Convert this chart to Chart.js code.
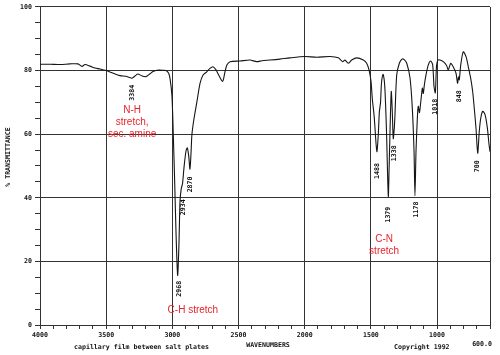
<!DOCTYPE html>
<html>
<head>
<meta charset="utf-8">
<script src="https://cdn.jsdelivr.net/npm/chart.js@4/dist/chart.umd.min.js"></script>
<style>
html,body{margin:0;padding:0;background:#fff;}
#wrap{width:500px;height:355px;position:relative;}
</style>
</head>
<body>
<div id="wrap"><canvas id="c" width="500" height="355"></canvas></div>
<script>
// Wavenumbers (cm-1) and % transmittance
const wavenumbers = [4000,3924,3849,3773,3713,3683,3660,3622,3584,3547,3500,3456,3396,3350,3328,3305,3282,3260,3229,3199,3169,3146,3116,3071,3048,3029,3018,3003,2993,2982,2972,2960,2950,2942,2933,2923,2912,2897,2887,2876,2867,2859,2852,2836,2814,2791,2768,2738,2716,2693,2670,2650,2620,2602,2587,2564,2489,2413,2363,2323,2262,2187,2111,1998,1909,1809,1746,1713,1696,1671,1645,1607,1557,1532,1514,1499,1489,1476,1469,1461,1454,1444,1436,1427,1420,1408,1399,1393,1386,1380,1373,1368,1363,1356,1346,1339,1331,1323,1318,1305,1285,1265,1250,1229,1204,1187,1174,1167,1159,1149,1142,1133,1124,1111,1104,1096,1084,1066,1048,1033,1023,1013,1004,993,978,953,928,915,897,878,857,845,838,832,821,802,781,764,746,731,719,706,693,681,670,655,638,620,608,600];
const transmittance = [82.0,82.0,81.9,82.1,82.1,81.3,81.9,81.4,80.8,80.5,80.0,79.3,78.4,78.2,77.9,77.6,78.3,78.9,78.3,78.1,79.0,79.7,80.1,80.1,80.0,79.2,77.6,72.0,60.0,44.3,28.6,15.6,25.6,39.0,42.8,44.5,49.5,54.7,55.7,53.0,49.0,54.0,60.0,65.0,70.3,76.0,78.6,79.7,80.7,81.2,80.2,78.6,76.6,79.7,81.8,82.8,83.0,83.3,82.8,83.1,83.3,83.6,84.0,84.4,84.2,84.4,84.0,82.8,83.3,82.3,83.3,84.0,83.3,82.3,80.2,76.6,71.0,66.0,62.0,57.0,54.5,59.9,67.0,70.0,76.0,78.8,77.0,73.4,66.0,57.8,46.0,40.4,48.0,60.0,73.4,68.0,58.6,62.0,66.0,78.6,82.3,83.6,83.5,82.3,77.6,68.2,54.7,40.6,54.7,65.0,68.8,66.8,69.8,74.5,72.8,75.5,78.6,81.8,83.0,81.8,75.0,73.0,81.5,83.3,83.3,82.8,81.6,80.2,82.3,81.2,79.2,76.0,78.0,77.1,81.8,85.9,84.4,81.2,77.6,73.4,68.2,62.0,54.0,60.9,65.0,67.2,66.2,62.0,57.0,54.5];

// Axis tick values
const xMajorTicks = [4000,3500,3000,2500,2000,1500,1000];
const yMajorTicks = [0,20,40,60,80,100];

// Peak labels (text, wavenumber, %T where the label sits)
const peakText = ['3384','2968','2934','2870','1488','1379','1338','1178','1018','848','700'];
const peakAtX  = [3300,2950,2917,2861,1452,1368,1323,1159,1013,832,693];
const peakAtY  = [73.0,11.4,37.0,44.2,48.4,34.7,54.0,36.3,68.6,71.9,49.9];

// Red band annotations (centre of each text block)
const noteLines = [['N-H','stretch,','sec. amine'],['C-H stretch'],['C-N','stretch']];
const noteAtX = [3304,2845,1400];
const noteAtY = [63.8,4.7,25.0];

const monoFont = 'bold 6.6px "DejaVu Sans Mono"';
const gridCol = '#333';

const overlay = {
  id:'overlay',
  afterDraw(chart){
    const {ctx, scales:{x,y}} = chart;
    ctx.save();
    ctx.fillStyle = '#111';
    ctx.font = monoFont;
    peakText.forEach((t,i)=>{
      ctx.save();
      ctx.translate(x.getPixelForValue(peakAtX[i]), y.getPixelForValue(peakAtY[i]));
      ctx.rotate(-Math.PI/2);
      ctx.textAlign='center'; ctx.textBaseline='middle';
      ctx.fillText(t,0,0);
      ctx.restore();
    });
    ctx.fillStyle = '#e8232b';
    ctx.font = '10px "Liberation Sans", Arial, sans-serif';
    ctx.textAlign='center'; ctx.textBaseline='middle';
    noteLines.forEach((lines,i)=>{
      const cx = x.getPixelForValue(noteAtX[i]);
      const cy = y.getPixelForValue(noteAtY[i]);
      lines.forEach((l,j)=>{
        ctx.fillText(l, cx, cy + (j-(lines.length-1)/2)*12.2);
      });
    });
    ctx.fillStyle = '#111';
    ctx.font = monoFont;
    ctx.textBaseline='middle';
    ctx.textAlign='left';
    ctx.fillText('capillary film between salt plates', 74, 347.5);
    ctx.fillText('Copyright 1992', 394, 347.5);
    ctx.textAlign='center';
    ctx.fillText('WAVENUMBERS', 268, 345);
    ctx.textAlign='right';
    ctx.fillText('600.0', x.getPixelForValue(600)+2, 344);
    ctx.save();
    ctx.translate(8, 157);
    ctx.rotate(-Math.PI/2);
    ctx.textAlign='center';
    ctx.fillText('% TRANSMITTANCE', 0, 0);
    ctx.restore();
    ctx.restore();
  }
};

const bgPlugin = {
  id:'bg',
  beforeDraw(chart){
    const ctx = chart.ctx;
    ctx.save(); ctx.fillStyle='#fff'; ctx.fillRect(0,0,chart.width,chart.height); ctx.restore();
  }
};

new Chart(document.getElementById('c'), {
  type:'line',
  data:{
    datasets:[{
      data: wavenumbers.map((w,i)=>({x:w,y:transmittance[i]})),
      borderColor:'#151515',
      borderWidth:1.1,
      pointRadius:0,
      tension:0.25,
      fill:false
    }]
  },
  options:{
    responsive:false,
    animation:false,
    devicePixelRatio:1,
    layout:{padding:{top:5,right:10,left:0,bottom:0}},
    plugins:{legend:{display:false},tooltip:{enabled:false}},
    scales:{
      x:{
        type:'linear',
        min:600, max:4000, reverse:true,
        afterFit(s){ s.height = 30; },
        border:{display:true,color:gridCol,width:1},
        grid:{
          color:(c)=> (c.tick && (xMajorTicks.includes(c.tick.value) || c.tick.value===600)) ? gridCol : 'rgba(0,0,0,0)',
          lineWidth:1,
          tickColor:gridCol,
          tickLength:4,
          drawTicks:true
        },
        ticks:{
          stepSize:100,
          autoSkip:false,
          maxRotation:0,
          padding:2,
          color:'#111',
          font:{family:'DejaVu Sans Mono',size:6.6,weight:'bold'},
          callback:(v)=> xMajorTicks.includes(v) ? String(v) : ''
        }
      },
      y:{
        min:0, max:100,
        afterFit(s){ s.width = 40; },
        border:{display:true,color:gridCol,width:1},
        grid:{
          color:(c)=> (c.tick && yMajorTicks.includes(c.tick.value)) ? gridCol : 'rgba(0,0,0,0)',
          lineWidth:1,
          tickColor:gridCol,
          tickLength:5,
          drawTicks:true
        },
        ticks:{
          stepSize:5,
          autoSkip:false,
          padding:3,
          color:'#111',
          font:{family:'DejaVu Sans Mono',size:6.6,weight:'bold'},
          callback:(v)=> yMajorTicks.includes(v) ? String(v) : ''
        }
      }
    }
  },
  plugins:[bgPlugin, overlay]
});
</script>
</body>
</html>
